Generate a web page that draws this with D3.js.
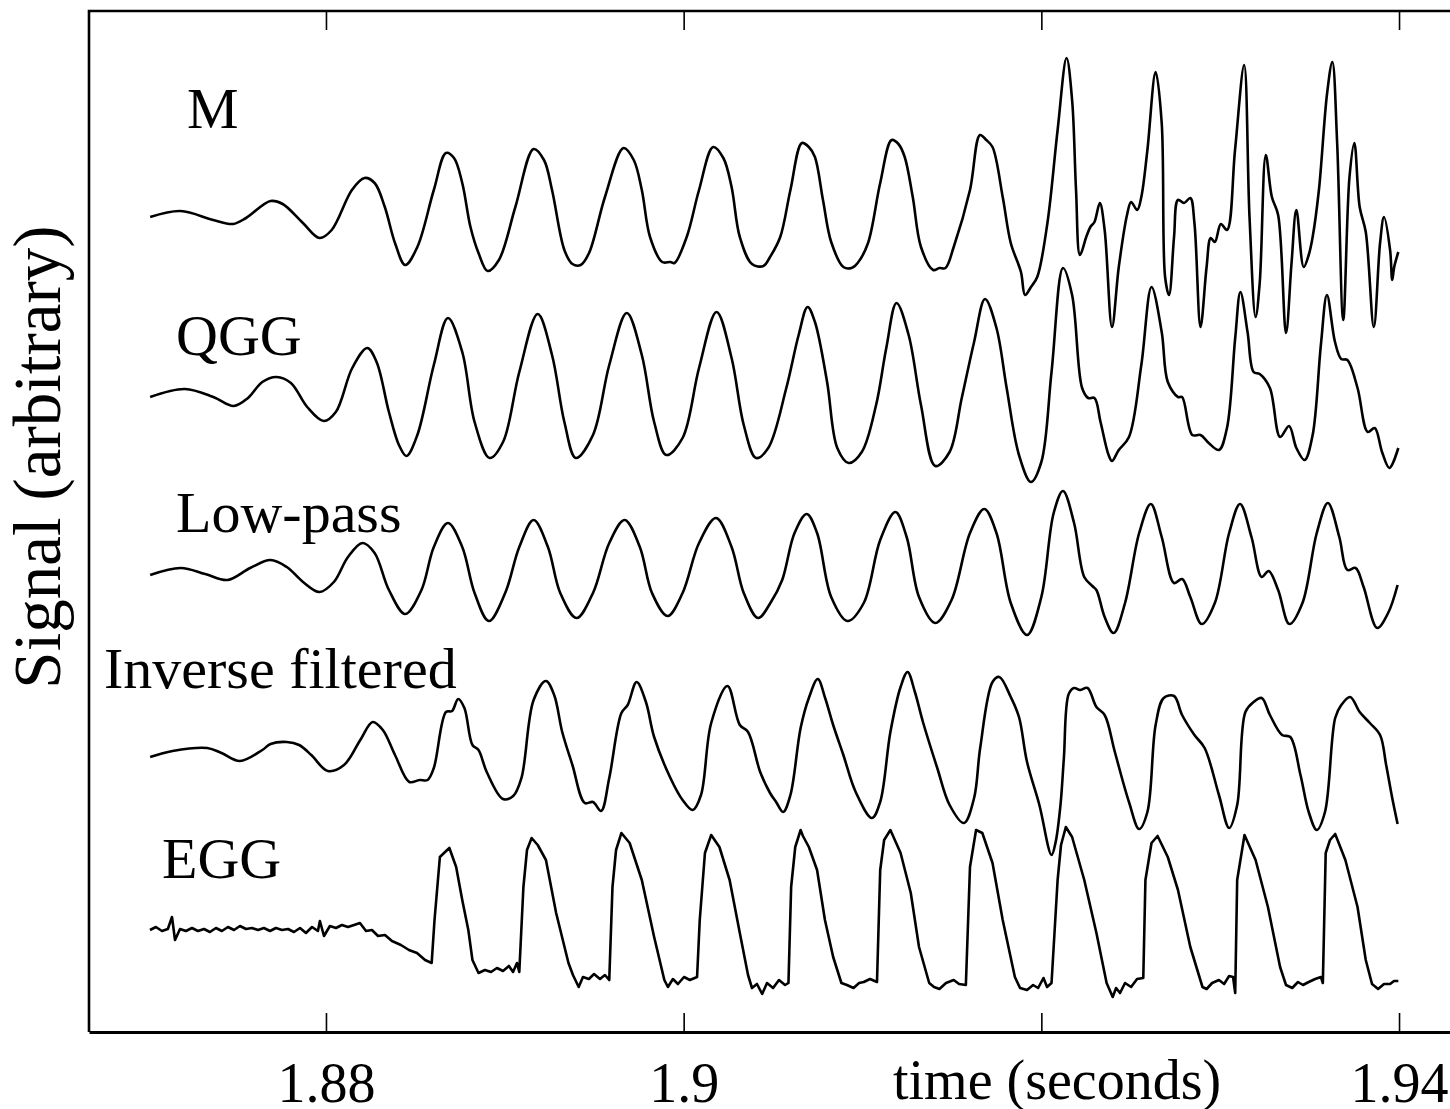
<!DOCTYPE html>
<html><head><meta charset="utf-8">
<script src="https://cdn.jsdelivr.net/npm/d3@7"></script>
<style>body{margin:0;background:#fff}svg{display:block}</style>
</head><body>
<svg id="chart" width="1450" height="1109"></svg>
<script>
// ---- data (time in ms, signal in arbitrary units) ----
const tickValues = [1880, 1900, 1920, 1940];
const tickLabels = ["1.88", "1.9", "", "1.94"];
const traceNames = ["M", "QGG", "Low-pass", "Inverse filtered", "EGG"];

const seriesM = [[1870.17,81.5],[1871.88,82.1],[1873.70,81.2],[1874.80,80.8],[1875.53,81.4],[1876.90,83.1],[1877.58,82.8],[1878.71,80.9],[1879.64,79.4],[1880.32,80.2],[1881.45,84.2],[1882.15,85.4],[1882.72,84.9],[1883.29,82.5],[1883.86,78.9],[1884.43,76.7],[1885.11,78.5],[1886.03,84.2],[1886.71,87.9],[1887.16,87.4],[1887.62,84.9],[1888.08,80.5],[1888.53,77.9],[1889.04,76.1],[1889.67,77.2],[1890.59,82.5],[1891.61,88.3],[1892.19,87.2],[1892.64,84.2],[1893.33,78.2],[1893.78,76.8],[1894.24,76.7],[1894.71,77.9],[1895.60,83.5],[1896.64,88.4],[1897.21,87.2],[1897.66,84.2],[1898.12,79.5],[1898.80,77.0],[1899.26,77.0],[1899.49,76.9],[1900.17,79.5],[1900.86,84.2],[1901.65,88.5],[1902.22,87.4],[1902.68,84.5],[1903.14,79.5],[1903.82,76.8],[1904.46,76.6],[1904.83,77.5],[1905.40,79.5],[1905.97,84.2],[1906.61,88.9],[1907.00,88.5],[1907.34,87.5],[1907.79,83.2],[1908.25,79.0],[1908.93,76.5],[1909.39,76.4],[1909.73,76.9],[1910.31,78.9],[1910.99,84.9],[1911.63,89.2],[1912.01,88.8],[1912.36,87.5],[1912.81,83.5],[1913.27,78.5],[1913.95,76.2],[1914.30,76.4],[1914.64,76.4],[1915.10,78.5],[1916.01,84.2],[1916.57,89.7],[1916.92,89.2],[1917.27,88.5],[1917.84,83.5],[1918.29,78.9],[1918.86,76.0],[1919.09,73.7],[1919.42,74.5],[1919.77,75.5],[1920.34,80.9],[1920.91,90.2],[1921.41,97.4],[1921.72,93.2],[1921.94,84.2],[1922.16,77.7],[1922.51,79.5],[1922.74,80.5],[1922.97,81.0],[1923.27,82.9],[1923.54,80.2],[1923.95,70.5],[1924.33,76.5],[1924.79,81.7],[1925.02,83.0],[1925.36,82.2],[1925.59,83.5],[1925.93,88.2],[1926.39,96.0],[1926.73,90.9],[1926.92,75.5],[1927.14,73.7],[1927.42,79.5],[1927.64,83.2],[1927.98,82.9],[1928.33,83.4],[1928.56,80.9],[1928.90,70.5],[1929.24,76.5],[1929.47,79.4],[1929.70,79.0],[1930.04,80.8],[1930.38,80.2],[1930.83,88.2],[1931.34,96.7],[1931.64,81.5],[1931.98,71.5],[1932.21,74.9],[1932.55,87.7],[1932.89,83.5],[1933.24,81.7],[1933.68,69.9],[1933.99,76.9],[1934.26,82.2],[1934.67,76.5],[1934.95,77.7],[1935.17,79.5],[1935.52,84.2],[1935.98,93.9],[1936.27,97.0],[1936.54,88.9],[1936.88,71.2],[1937.23,85.5],[1937.50,88.9],[1937.80,82.5],[1938.14,80.0],[1938.59,70.5],[1938.94,78.9],[1939.16,81.5],[1939.50,78.2],[1939.62,75.2],[1939.73,76.5],[1939.96,78.0]];

const seriesQGG = [[1870.17,63.5],[1872.11,64.3],[1873.70,63.5],[1874.84,62.6],[1875.64,63.4],[1876.44,65.0],[1877.24,65.5],[1878.04,64.9],[1878.95,62.5],[1879.87,61.1],[1880.55,62.0],[1881.47,66.4],[1882.31,68.4],[1882.83,67.0],[1883.52,62.0],[1884.08,58.7],[1884.50,57.6],[1885.11,59.7],[1886.03,66.7],[1886.82,71.4],[1887.62,68.0],[1888.31,61.0],[1889.15,57.4],[1889.90,59.0],[1890.81,66.0],[1891.84,71.8],[1892.64,67.7],[1893.33,61.0],[1893.97,57.4],[1894.93,59.7],[1895.84,66.7],[1896.82,71.9],[1897.66,67.7],[1898.35,61.0],[1899.03,57.7],[1899.94,59.4],[1900.86,66.4],[1901.84,72.0],[1902.68,67.4],[1903.36,60.7],[1904.05,57.4],[1904.73,58.4],[1905.74,64.4],[1906.43,69.7],[1906.93,72.5],[1907.34,71.0],[1908.02,65.0],[1908.59,58.4],[1909.23,56.9],[1909.96,58.0],[1910.76,62.7],[1911.33,68.4],[1911.90,72.9],[1912.58,69.7],[1913.27,62.7],[1914.07,56.6],[1914.87,58.0],[1915.55,63.4],[1916.24,69.0],[1916.85,73.3],[1917.49,70.4],[1918.06,64.4],[1918.75,57.7],[1919.42,55.0],[1920.00,57.0],[1920.57,66.0],[1921.21,76.4],[1921.72,73.7],[1922.28,64.4],[1922.62,63.4],[1922.97,63.4],[1923.31,61.0],[1923.76,57.7],[1923.95,57.1],[1924.33,58.2],[1924.90,59.5],[1925.59,66.7],[1926.16,74.5],[1926.73,70.0],[1927.07,65.0],[1927.64,63.5],[1927.87,63.5],[1928.44,59.7],[1928.90,59.7],[1929.36,58.9],[1929.93,58.2],[1930.38,60.4],[1930.84,69.4],[1931.13,74.0],[1931.53,70.0],[1931.87,66.0],[1932.21,65.8],[1932.78,64.4],[1933.35,59.5],[1933.85,60.6],[1934.26,58.4],[1934.72,57.2],[1935.17,59.7],[1935.63,68.7],[1935.97,73.7],[1936.42,69.0],[1936.77,67.3],[1937.11,67.2],[1937.68,64.4],[1938.25,60.0],[1938.64,60.4],[1939.05,58.0],[1939.46,56.4],[1939.96,58.4]];

const seriesLowPass = [[1870.17,45.7],[1871.88,46.4],[1873.25,45.8],[1874.50,45.2],[1875.76,46.4],[1876.90,47.2],[1877.81,46.5],[1878.72,45.0],[1879.64,44.0],[1880.44,45.0],[1881.23,47.5],[1882.04,48.9],[1882.72,47.9],[1883.52,44.2],[1884.43,41.8],[1885.34,44.2],[1886.03,48.5],[1886.82,50.9],[1887.62,48.5],[1888.31,43.9],[1889.11,41.1],[1890.02,43.9],[1890.81,48.5],[1891.61,51.2],[1892.41,48.5],[1893.10,43.9],[1894.01,41.4],[1894.93,43.9],[1895.84,48.9],[1896.70,51.2],[1897.55,48.5],[1898.23,43.9],[1899.10,41.6],[1899.94,43.9],[1900.86,48.9],[1901.81,51.4],[1902.68,48.5],[1903.36,43.9],[1904.16,41.4],[1904.85,42.9],[1905.51,45.2],[1906.20,49.9],[1906.88,51.8],[1907.46,49.9],[1908.25,43.5],[1909.16,41.1],[1910.07,42.9],[1910.99,49.2],[1911.84,52.0],[1912.47,49.5],[1913.16,43.5],[1914.07,40.9],[1914.98,43.2],[1916.01,49.9],[1916.81,52.3],[1917.49,49.9],[1918.29,42.9],[1919.20,39.7],[1920.00,43.5],[1920.69,51.9],[1921.21,54.1],[1921.83,50.9],[1922.40,45.5],[1922.85,44.6],[1923.08,44.2],[1923.54,41.5],[1924.04,39.9],[1924.68,42.9],[1925.47,49.9],[1926.12,52.8],[1926.73,49.5],[1927.42,44.9],[1927.87,45.3],[1928.33,43.5],[1928.97,40.8],[1929.70,42.9],[1930.50,49.9],[1931.11,52.8],[1931.75,49.5],[1932.32,45.5],[1932.71,46.1],[1933.24,44.2],[1933.87,40.8],[1934.60,42.9],[1935.40,49.9],[1936.02,52.9],[1936.66,49.5],[1937.11,46.2],[1937.57,46.4],[1938.02,44.5],[1938.78,40.4],[1939.39,41.9],[1939.92,44.7]];

const seriesInverse = [[1870.17,27.5],[1871.42,28.1],[1873.36,28.4],[1874.16,27.9],[1875.19,27.1],[1876.44,28.2],[1876.90,28.8],[1877.81,29.0],[1878.50,28.7],[1879.18,27.7],[1880.10,26.1],[1881.01,26.7],[1881.92,29.2],[1882.61,31.0],[1883.18,30.2],[1883.86,27.7],[1884.66,25.0],[1885.23,25.2],[1885.68,25.2],[1886.03,26.4],[1886.71,32.0],[1887.05,32.1],[1887.39,33.3],[1887.74,32.4],[1888.19,28.7],[1888.53,28.2],[1888.99,26.0],[1889.90,23.3],[1890.47,23.6],[1890.93,25.4],[1891.61,33.2],[1892.30,35.1],[1892.76,33.7],[1893.21,30.0],[1893.78,26.7],[1894.47,22.9],[1894.93,23.0],[1895.38,22.1],[1895.84,25.4],[1896.52,31.9],[1896.87,32.7],[1897.37,35.0],[1897.89,33.0],[1898.35,29.5],[1899.26,25.4],[1899.94,23.2],[1900.51,22.2],[1900.97,23.7],[1901.54,30.9],[1902.45,34.6],[1903.14,30.7],[1903.60,30.0],[1904.28,26.0],[1904.83,23.9],[1905.17,23.0],[1905.56,22.0],[1905.97,23.7],[1906.54,30.4],[1907.00,33.4],[1907.50,35.3],[1907.91,33.4],[1908.36,30.7],[1908.93,27.7],[1909.62,24.0],[1910.53,21.4],[1910.99,23.0],[1911.56,30.0],[1912.13,34.5],[1912.52,36.0],[1912.93,34.0],[1913.38,31.0],[1914.18,26.4],[1914.87,22.7],[1915.67,20.9],[1916.24,23.4],[1916.58,28.4],[1917.27,35.0],[1917.65,35.5],[1918.29,33.5],[1918.75,31.5],[1919.20,27.0],[1919.89,22.7],[1920.57,17.7],[1920.80,19.0],[1921.07,22.7],[1921.26,27.4],[1921.53,33.8],[1921.83,34.4],[1922.16,34.2],[1922.58,34.4],[1923.08,32.5],[1923.54,31.7],[1924.11,28.0],[1924.90,23.0],[1925.47,20.3],[1925.93,22.0],[1926.39,30.7],[1926.84,33.4],[1927.42,33.6],[1927.87,31.7],[1928.56,29.7],[1929.13,28.4],[1929.93,23.7],[1930.50,20.4],[1930.95,22.7],[1931.41,32.0],[1931.87,33.0],[1932.32,33.4],[1932.78,31.7],[1933.46,29.7],[1933.92,29.5],[1934.49,25.7],[1934.95,22.0],[1935.40,20.2],[1935.86,22.0],[1936.43,31.4],[1936.77,32.7],[1937.27,33.5],[1937.80,32.0],[1938.37,30.9],[1938.94,29.7],[1939.28,26.7],[1939.62,23.4],[1939.92,20.8]];

const seriesEGG = [[1870.16,10.2],[1870.49,10.5],[1870.83,10.1],[1871.16,10.3],[1871.39,11.5],[1871.56,9.2],[1871.84,10.3],[1872.17,10.1],[1872.51,10.4],[1872.84,10.1],[1873.18,10.3],[1873.51,10.0],[1873.85,10.4],[1874.18,10.1],[1874.52,10.5],[1874.86,10.2],[1875.19,10.6],[1875.53,10.3],[1875.86,10.4],[1876.20,10.2],[1876.53,10.4],[1876.87,10.1],[1877.20,10.4],[1877.54,10.2],[1877.88,10.3],[1878.21,10.0],[1878.55,10.4],[1878.88,9.9],[1879.22,10.5],[1879.55,10.1],[1879.66,11.1],[1879.89,9.6],[1880.22,10.6],[1880.56,10.4],[1880.89,10.7],[1881.23,10.5],[1881.57,10.7],[1881.90,10.9],[1882.24,10.1],[1882.57,10.2],[1882.91,9.6],[1883.30,9.7],[1883.69,9.1],[1884.19,8.7],[1884.64,8.2],[1885.09,7.9],[1885.54,7.2],[1885.91,6.9],[1886.07,11.2],[1886.37,17.5],[1886.60,17.9],[1886.90,18.4],[1887.28,16.5],[1887.62,13.2],[1887.96,10.2],[1888.19,7.2],[1888.53,5.9],[1888.89,6.2],[1889.23,6.0],[1889.56,6.4],[1889.90,6.1],[1890.23,6.6],[1890.46,6.0],[1890.68,6.9],[1890.81,6.0],[1891.04,14.5],[1891.24,18.2],[1891.50,19.4],[1891.84,18.7],[1892.30,17.2],[1892.87,11.9],[1893.56,6.9],[1893.81,5.7],[1894.13,4.5],[1894.37,5.5],[1894.70,5.3],[1894.99,5.8],[1895.32,5.3],[1895.60,5.7],[1895.84,5.2],[1896.02,14.5],[1896.22,18.2],[1896.52,19.9],[1896.98,18.9],[1897.66,15.2],[1898.35,9.5],[1898.92,5.2],[1899.12,4.5],[1899.40,5.3],[1899.68,4.8],[1900.02,5.5],[1900.35,5.2],[1900.75,5.5],[1900.90,11.2],[1901.19,17.9],[1901.54,19.7],[1902.00,18.5],[1902.57,15.2],[1903.14,9.9],[1903.60,5.7],[1903.82,4.4],[1904.10,4.8],[1904.39,3.8],[1904.66,4.9],[1905.00,4.4],[1905.33,5.2],[1905.67,4.7],[1905.86,4.9],[1906.01,14.5],[1906.24,18.5],[1906.54,20.2],[1906.67,19.6],[1907.00,18.5],[1907.46,16.2],[1907.90,11.2],[1908.36,7.5],[1908.82,4.9],[1909.13,4.7],[1909.50,4.4],[1909.81,4.9],[1910.07,5.0],[1910.42,5.3],[1910.81,5.0],[1910.99,16.2],[1911.21,19.2],[1911.56,20.2],[1912.13,17.9],[1912.70,13.9],[1913.16,8.5],[1913.73,4.9],[1914.00,4.5],[1914.30,4.3],[1914.67,4.9],[1915.10,5.2],[1915.40,4.8],[1915.78,4.7],[1916.01,16.5],[1916.35,20.2],[1916.70,19.9],[1917.27,16.9],[1917.84,11.2],[1918.52,5.5],[1918.81,4.4],[1919.20,4.2],[1919.54,4.7],[1919.82,4.4],[1920.12,5.4],[1920.32,4.5],[1920.57,4.9],[1920.91,15.2],[1921.10,18.7],[1921.37,20.5],[1921.72,19.5],[1922.40,15.2],[1923.08,9.9],[1923.65,4.9],[1923.99,3.5],[1924.18,4.4],[1924.40,3.9],[1924.68,4.9],[1925.02,4.5],[1925.35,5.3],[1925.70,5.4],[1925.82,15.2],[1926.16,18.9],[1926.50,19.6],[1927.07,17.5],[1927.64,14.2],[1928.33,8.5],[1929.01,4.5],[1929.24,4.3],[1929.55,4.9],[1929.93,5.2],[1930.22,4.8],[1930.50,5.6],[1930.72,5.5],[1930.84,3.9],[1930.95,15.2],[1931.36,19.7],[1931.98,17.2],[1932.67,12.5],[1933.35,6.5],[1933.68,4.7],[1934.03,4.4],[1934.35,5.0],[1934.63,4.7],[1934.95,5.0],[1935.31,5.3],[1935.63,5.5],[1935.74,4.9],[1935.90,17.9],[1936.14,19.2],[1936.43,19.8],[1937.00,17.2],[1937.68,12.5],[1938.14,7.2],[1938.49,4.8],[1938.83,4.3],[1939.16,4.8],[1939.50,4.8],[1939.72,5.1],[1939.96,5.1]];

// ---- layout ----
const W = 1450, H = 1109;
const plotL = 89, plotR = 1450, plotT = 11, plotB = 1032;
const serif = "'Liberation Serif','Times New Roman',serif";
const labelPos = [[187,128],[176,355],[176,532],[104,688],[162,878]];

const svg = d3.select("#chart");
svg.append("rect").attr("width", W).attr("height", H).attr("fill", "#fff");

const x = d3.scaleLinear().domain([1866.75, 1942.85]).range([plotL, plotR]);
const y = d3.scaleLinear().domain([0, 102]).range([plotB, 12]);

// frame: top and left lines
svg.append("path")
  .attr("d", `M${plotR},${plotT}H${plotL}V${plotB}`)
  .attr("fill", "none").attr("stroke", "#000").attr("stroke-width", 2.6);

// bottom axis
const gx = svg.append("g").attr("transform", `translate(0,${plotB})`)
  .call(d3.axisBottom(x).tickValues(tickValues).tickSizeInner(-19).tickSizeOuter(0)
    .tickPadding(30).tickFormat((d, i) => tickLabels[i]));
gx.select(".domain").attr("stroke-width", 3.2);
gx.selectAll(".tick line").attr("stroke-width", 1.6);
gx.selectAll(".tick text").attr("font-family", serif).attr("font-size", 56).attr("fill", "#000");

// top ticks
const gt = svg.append("g").attr("transform", `translate(0,${plotT})`)
  .call(d3.axisTop(x).tickValues(tickValues).tickSizeInner(-19).tickSizeOuter(0).tickFormat(""));
gt.select(".domain").remove();
gt.selectAll(".tick line").attr("stroke-width", 1.6);

// axis titles
svg.append("text").attr("x", 893).attr("y", 1099)
  .attr("font-family", serif).attr("font-size", 56).text("time (seconds)");
svg.append("text").attr("transform", "translate(60,457) rotate(-90)")
  .attr("text-anchor", "middle").attr("font-family", serif).attr("font-size", 67)
  .text("Signal (arbitrary)");

// traces
const smooth = d3.line().x(d => x(d[0])).y(d => y(d[1])).curve(d3.curveCatmullRom.alpha(0.5));
const jagged = d3.line().x(d => x(d[0])).y(d => y(d[1]));
const allSeries = [seriesM, seriesQGG, seriesLowPass, seriesInverse, seriesEGG];
allSeries.forEach((s, i) => {
  svg.append("path").attr("d", (i === 4 ? jagged : smooth)(s))
    .attr("fill", "none").attr("stroke", "#000").attr("stroke-width", 2.6)
    .attr("stroke-linejoin", "round");
});

// trace labels
traceNames.forEach((n, i) => {
  svg.append("text").attr("x", labelPos[i][0]).attr("y", labelPos[i][1])
    .attr("font-family", serif).attr("font-size", 58).text(n);
});
</script>
</body></html>
